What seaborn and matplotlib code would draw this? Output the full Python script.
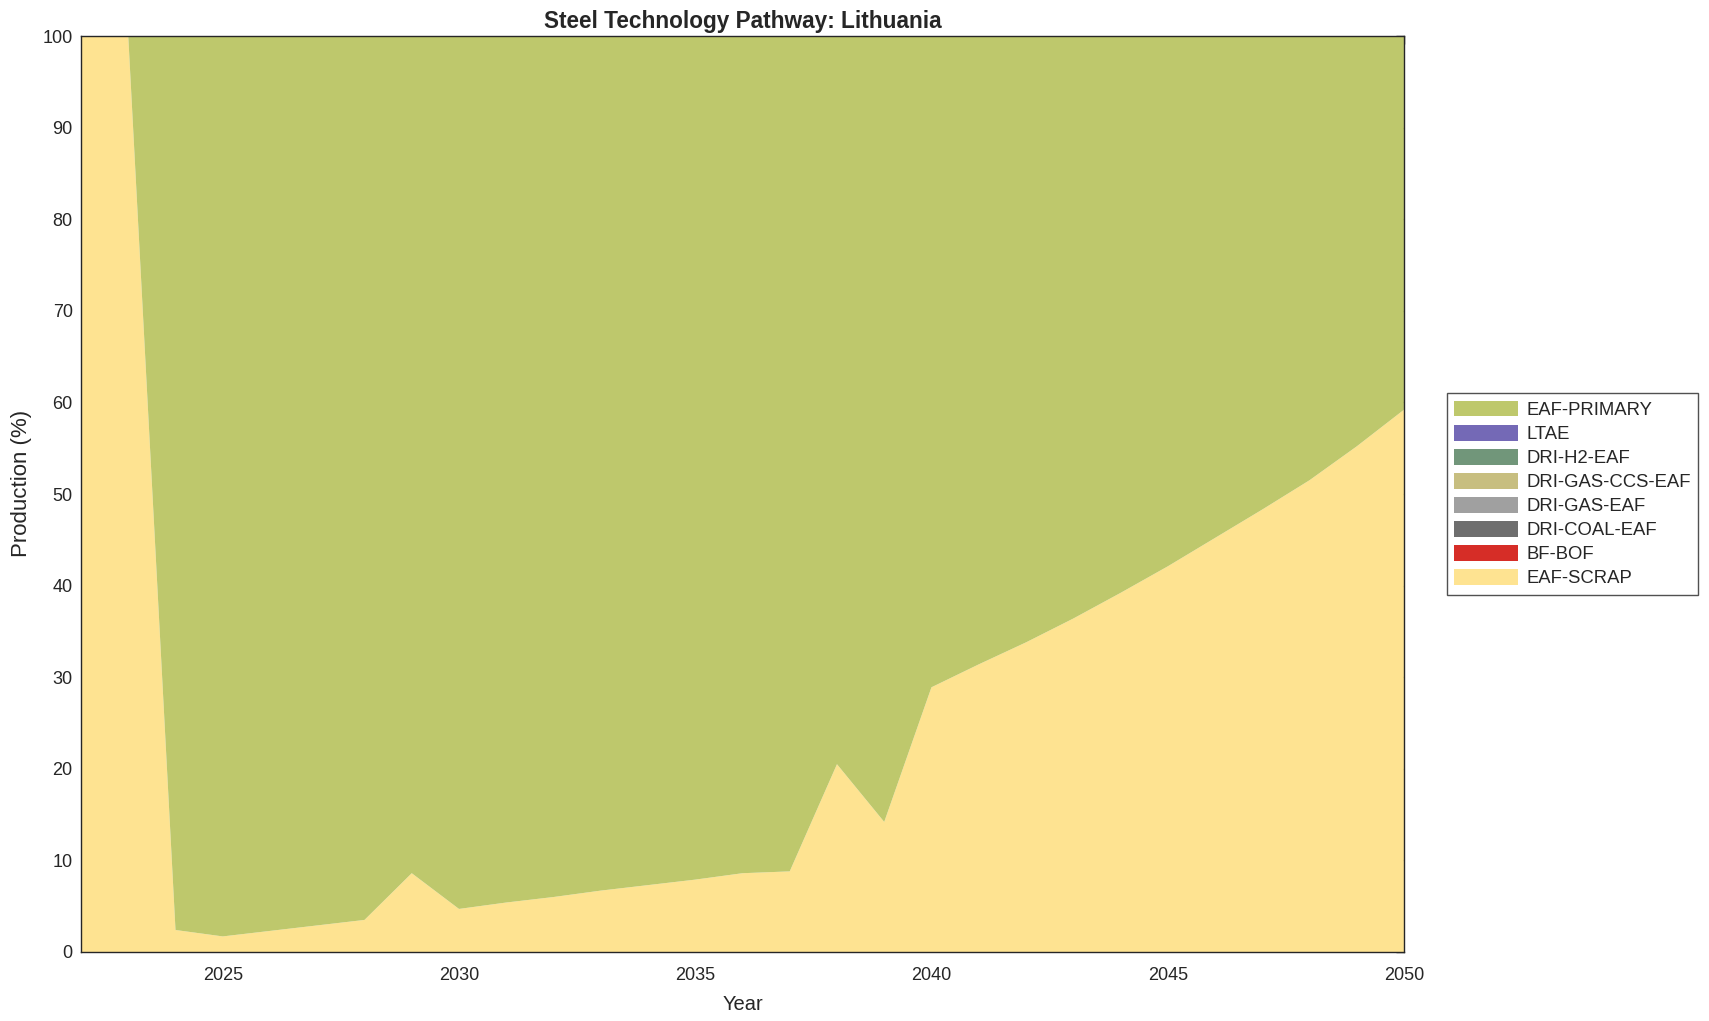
import matplotlib
import matplotlib.pyplot as plt
import numpy as np
import seaborn as sns

matplotlib.use("Agg")

YEARS = list(range(2022, 2051))

EAF_SCRAP = [
    100.0, 100.0, 2.4, 1.7, 2.3, 2.9, 3.5, 8.6, 4.7,
    5.4, 6.0, 6.7, 7.3, 7.9, 8.6, 8.8, 20.5, 14.2,
    28.9, 31.4, 33.8, 36.4, 39.2, 42.1, 45.2, 48.3, 51.5, 55.2, 59.2,
]
ZERO = [0.0] * len(YEARS)
BF_BOF = ZERO
DRI_COAL_EAF = ZERO
DRI_GAS_EAF = ZERO
DRI_GAS_CCS_EAF = ZERO
DRI_H2_EAF = ZERO
LTAE = ZERO
EAF_PRIMARY = [100.0 - v for v in EAF_SCRAP]

# bottom to top stacking order
TECH_NAMES = [
    "EAF-SCRAP", "BF-BOF", "DRI-COAL-EAF", "DRI-GAS-EAF",
    "DRI-GAS-CCS-EAF", "DRI-H2-EAF", "LTAE", "EAF-PRIMARY",
]
TECH_VALUES = [
    EAF_SCRAP, BF_BOF, DRI_COAL_EAF, DRI_GAS_EAF,
    DRI_GAS_CCS_EAF, DRI_H2_EAF, LTAE, EAF_PRIMARY,
]
TECH_COLORS = [
    "#fee391", "#d62d27", "#6e6e6e", "#a0a0a0",
    "#c7be80", "#71967a", "#7469b6", "#bec86c",
]

sns.set_theme(style="white")
plt.rcParams["font.family"] = ["Liberation Sans", "DejaVu Sans"]

fig = plt.figure(figsize=(17.09, 10.21), dpi=100)
ax = fig.add_axes([0.0474, 0.0676, 0.8215 - 0.0474, 0.9647 - 0.0676])

polys = ax.stackplot(
    np.array(YEARS), np.array(TECH_VALUES), labels=TECH_NAMES,
    colors=TECH_COLORS, linewidth=0, edgecolor="none",
)

ax.set_xlim(2022, 2050)
ax.set_ylim(0, 100)
ax.set_xticks(range(2025, 2051, 5))
ax.set_yticks(range(0, 101, 10))
ax.tick_params(direction="in", length=6, width=1, top=True, right=True,
               labelsize=13, colors="#262626")
ax.tick_params(axis="x", pad=11)
ax.tick_params(axis="y", pad=6)
for spine in ax.spines.values():
    spine.set_color("#262626")
    spine.set_linewidth(1)

ax.set_title("Steel Technology Pathway: Lithuania", fontsize=16.3,
             fontweight="bold", pad=6)
ax.set_xlabel("Year", fontsize=14.5, labelpad=8)
ax.set_ylabel("Production (%)", fontsize=16)
ax.yaxis.set_label_coords(-0.037, 0.512)

handles = polys[::-1]
labels = TECH_NAMES[::-1]
leg = fig.legend(
    handles, labels, loc="center left", bbox_to_anchor=(0.8467, 0.516),
    fontsize=13.3, frameon=True, fancybox=False, edgecolor="#262626",
    handlelength=3.45, handleheight=0.92, labelspacing=0.32,
    borderpad=0.4, handletextpad=0.45, borderaxespad=0,
)
leg.get_frame().set_linewidth(1)

fig.savefig("out.png", dpi=100)
plt.close(fig)
